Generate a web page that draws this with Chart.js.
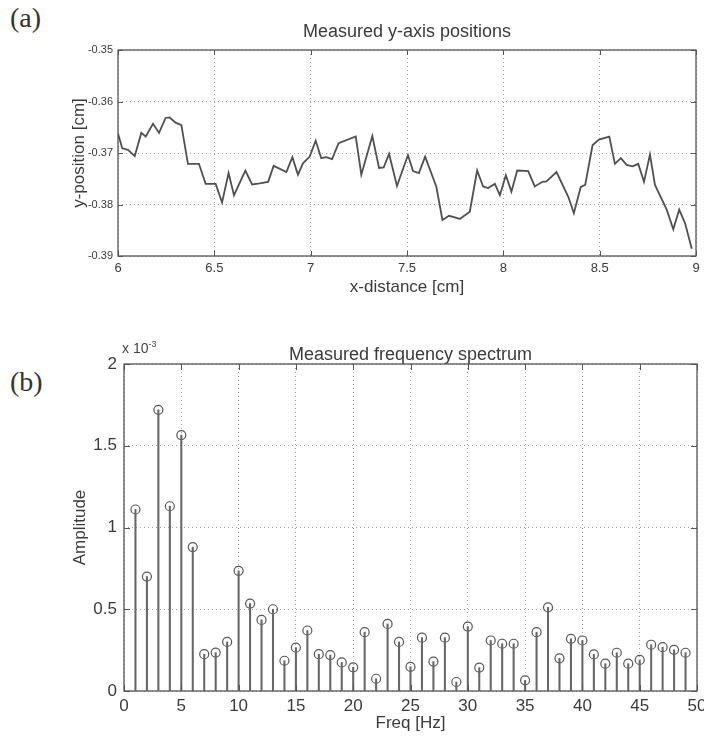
<!DOCTYPE html>
<html>
<head>
<meta charset="utf-8">
<script src="https://cdn.jsdelivr.net/npm/chart.js@4.4.1/dist/chart.umd.min.js"></script>
<style>
  html, body { margin: 0; padding: 0; background: #fff; }
  body { width: 704px; height: 738px; position: relative; overflow: hidden; font-family: 'Liberation Sans', Arial, sans-serif; color: #333; }
  .panel { position: absolute; left: 10px; font: 28px 'Liberation Serif', 'Times New Roman', serif; color: #333; }
  .wrap { position: absolute; left: 0; width: 704px; }
  #wrapA { top: 0; height: 300px; }
  #wrapB { top: 330px; height: 408px; }
  .mult { position: absolute; left: 122px; top: 339px; font-size: 14px; color: #444; }
  .mult sup { font-size: 9px; }
</style>
</head>
<body>
<div class="panel" style="top:2px">(a)</div>
<div class="panel" style="top:366px">(b)</div>
<div class="wrap" id="wrapA"><canvas id="chartA"></canvas></div>
<div class="wrap" id="wrapB"><canvas id="chartB"></canvas></div>
<div class="mult">x 10<sup>-3</sup></div>
<script>
// (a) measured y-axis positions
const xDist = [6.000, 6.022, 6.052, 6.087, 6.121, 6.144, 6.182, 6.213, 6.247, 6.268, 6.299, 6.329, 6.363, 6.420,
  6.455, 6.507, 6.540, 6.574, 6.602, 6.661, 6.696, 6.735, 6.779, 6.808, 6.874, 6.905, 6.934, 6.960, 6.995, 7.026,
  7.055, 7.081, 7.111, 7.145, 7.234, 7.263, 7.320, 7.355, 7.379, 7.407, 7.448, 7.505, 7.531, 7.562, 7.594, 7.652,
  7.684, 7.718, 7.748, 7.774, 7.826, 7.864, 7.895, 7.921, 7.956, 7.982, 8.013, 8.042, 8.072, 8.129, 8.163, 8.203,
  8.224, 8.276, 8.337, 8.366, 8.402, 8.425, 8.463, 8.496, 8.550, 8.579, 8.610, 8.640, 8.671, 8.700, 8.730, 8.761,
  8.787, 8.848, 8.882, 8.913, 8.943, 8.978];
const yPos = [-0.3662, -0.3691, -0.3694, -0.3706, -0.3661, -0.3668, -0.3643, -0.3661, -0.3632, -0.3631, -0.3641,
  -0.3646, -0.3721, -0.3721, -0.3760, -0.3760, -0.3796, -0.3739, -0.3782, -0.3734, -0.3761, -0.3759, -0.3756,
  -0.3725, -0.3737, -0.3708, -0.3742, -0.3720, -0.3707, -0.3676, -0.3710, -0.3708, -0.3712, -0.3681, -0.3668,
  -0.3742, -0.3667, -0.3729, -0.3728, -0.3702, -0.3764, -0.3704, -0.3735, -0.3739, -0.3707, -0.3765, -0.3830,
  -0.3822, -0.3825, -0.3828, -0.3814, -0.3734, -0.3765, -0.3768, -0.3760, -0.3782, -0.3743, -0.3775, -0.3734,
  -0.3735, -0.3765, -0.3756, -0.3755, -0.3737, -0.3785, -0.3817, -0.3766, -0.3762, -0.3685, -0.3674, -0.3668,
  -0.3721, -0.3710, -0.3723, -0.3726, -0.3721, -0.3756, -0.3703, -0.3762, -0.3810, -0.3848, -0.3810, -0.3836,
  -0.3886];

// (b) measured frequency spectrum, amplitude in units of 1e-3
const freqHz = [1, 2, 3, 4, 5, 6, 7, 8, 9, 10, 11, 12, 13, 14, 15, 16, 17, 18, 19, 20, 21, 22, 23, 24, 25,
  26, 27, 28, 29, 30, 31, 32, 33, 34, 35, 36, 37, 38, 39, 40, 41, 42, 43, 44, 45, 46, 47, 48, 49];
const ampE3 = [1.11, 0.70, 1.72, 1.13, 1.565, 0.88, 0.225, 0.235, 0.30, 0.735, 0.535, 0.435, 0.50, 0.185, 0.265,
  0.37, 0.225, 0.22, 0.175, 0.145, 0.36, 0.075, 0.41, 0.30, 0.148, 0.326, 0.18, 0.326, 0.055, 0.394, 0.143,
  0.309, 0.289, 0.289, 0.065, 0.36, 0.512, 0.20, 0.319, 0.309, 0.224, 0.167, 0.234, 0.167, 0.19, 0.283, 0.268,
  0.252, 0.234];

const FONT = "'Liberation Sans', Arial, sans-serif";
const INK = '#3a3a3a';
const GRID = '#a0a0a0';
const FRAME = '#555';

// matlab style box: frame + inward ticks on all four sides
const matlabBox = {
  id: 'matlabBox',
  afterDatasetsDraw(chart, args, opts) {
    const { ctx, chartArea: a, scales: { x, y } } = chart;
    const len = opts.tick || 5;
    ctx.save();
    ctx.strokeStyle = FRAME;
    ctx.lineWidth = 1;
    ctx.beginPath();
    for (const t of x.ticks) {
      const px = Math.round(x.getPixelForValue(t.value)) + 0.5;
      ctx.moveTo(px, a.bottom); ctx.lineTo(px, a.bottom - len);
      ctx.moveTo(px, a.top); ctx.lineTo(px, a.top + len);
    }
    for (const t of y.ticks) {
      const py = Math.round(y.getPixelForValue(t.value)) + 0.5;
      ctx.moveTo(a.left, py); ctx.lineTo(a.left + len, py);
      ctx.moveTo(a.right, py); ctx.lineTo(a.right - len, py);
    }
    ctx.stroke();
    ctx.lineWidth = 1.3;
    ctx.strokeRect(a.left, a.top, a.right - a.left, a.bottom - a.top);
    ctx.restore();
  }
};

const fmt = v => String(Math.round(v * 1000) / 1000);

function axis(o) {
  return {
    type: 'linear', min: o.min, max: o.max, offset: false,
    ticks: { stepSize: o.step, padding: o.pad, color: INK, font: { family: FONT, size: o.size }, maxRotation: 0, autoSkip: false, callback: fmt },
    grid: { color: GRID, lineWidth: 1, drawTicks: false, offset: false },
    border: { display: false, dash: [1, 3] },
    title: { display: true, text: o.title, color: INK, font: { family: FONT, size: 17, lineHeight: 1.2 }, padding: o.tpad },
    afterFit: o.fit,
  };
}

// fixed axis sizes, no extra room for edge labels
const fitX = h => s => { s.height = h; s.paddingLeft = 0; s.paddingRight = 0; };
const fitY = w => s => { s.width = w; s.paddingTop = 0; s.paddingBottom = 0; };

function titleOpts(text, top, bottom) {
  return {
    display: true, text, fullSize: false, color: INK,
    font: { family: FONT, size: 18, weight: 'normal', lineHeight: 1 },
    padding: { top, bottom },
  };
}

new Chart(document.getElementById('chartA'), {
  type: 'scatter',
  data: {
    datasets: [{
      data: xDist.map((x, i) => ({ x, y: yPos[i] })),
      showLine: true, pointRadius: 0, borderColor: '#505050', borderWidth: 1.8, tension: 0,
    }],
  },
  options: {
    responsive: true, maintainAspectRatio: false, animation: false, events: [],
    layout: { padding: { top: 0, left: 0, right: 8, bottom: 0 } },
    plugins: { legend: { display: false }, tooltip: { enabled: false }, title: titleOpts('Measured y-axis positions', 23, 9), matlabBox: { tick: 5 } },
    scales: {
      x: axis({ min: 6, max: 9, step: 0.5, pad: 5, size: 13, title: 'x-distance [cm]', tpad: { top: 0, bottom: 2 }, fit: fitX(44) }),
      y: axis({ min: -0.39, max: -0.35, step: 0.01, pad: 5, size: 11, title: 'y-position [cm]', tpad: { top: 69, bottom: 0 }, fit: fitY(118) }),
    },
  },
  plugins: [matlabBox],
});

const stems = freqHz.map((x, i) => ({ x, y: ampE3[i] }));
new Chart(document.getElementById('chartB'), {
  type: 'bar',
  data: {
    datasets: [
      { type: 'bar', data: stems, backgroundColor: '#666', borderWidth: 0, barThickness: 1.4 },
      { type: 'scatter', data: stems, pointStyle: 'circle', pointRadius: 4.5, borderColor: '#555', borderWidth: 1.2, backgroundColor: 'rgba(0,0,0,0)' },
    ],
  },
  options: {
    responsive: true, maintainAspectRatio: false, animation: false, events: [],
    layout: { padding: { top: 0, left: 0, right: 7, bottom: 0 } },
    plugins: { legend: { display: false }, tooltip: { enabled: false }, title: titleOpts('Measured frequency spectrum', 16, 0), matlabBox: { tick: 6 } },
    scales: {
      x: axis({ min: 0, max: 50, step: 5, pad: 5, size: 17, title: 'Freq [Hz]', tpad: { top: 0, bottom: 4 }, fit: fitX(47) }),
      y: axis({ min: 0, max: 2, step: 0.5, pad: 7, size: 17, title: 'Amplitude', tpad: { top: 70, bottom: 0 }, fit: fitY(124) }),
    },
  },
  plugins: [matlabBox],
});
</script>
</body>
</html>
